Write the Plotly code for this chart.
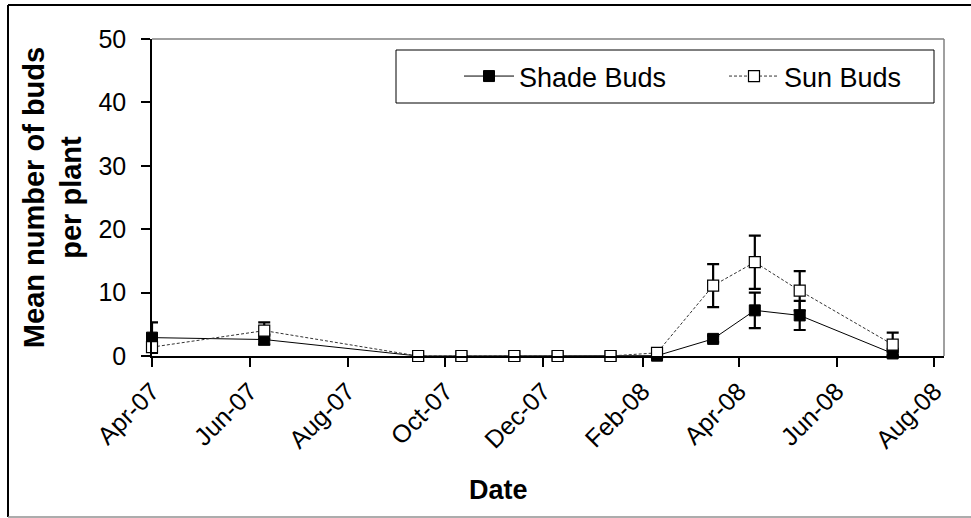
import plotly.graph_objects as go

dates = ["2007-04-01", "2007-06-10", "2007-09-14", "2007-10-11", "2007-11-13",
         "2007-12-10", "2008-01-12", "2008-02-10", "2008-03-16", "2008-04-11",
         "2008-05-09", "2008-07-06"]
shade_buds = [2.9, 2.6, 0, 0, 0, 0, 0, 0.05, 2.7, 7.2, 6.4, 0.4]
shade_err = [2.4, 0.8, 0, 0, 0, 0, 0, 0, 0.5, 2.8, 2.3, 0.3]
sun_buds = [1.4, 4.0, 0, 0, 0, 0, 0, 0.5, 11.1, 14.8, 10.3, 1.8]
sun_err = [0.8, 1.3, 0, 0, 0, 0, 0, 0.2, 3.4, 4.2, 3.1, 1.9]

FONT = "Liberation Sans, Arial, sans-serif"

fig = go.Figure()
fig.add_trace(go.Scatter(
    x=dates, y=shade_buds, name="Shade Buds", mode="lines+markers", cliponaxis=False,
    line=dict(color="black", width=1),
    marker=dict(symbol="square", size=11, color="black", line=dict(color="black", width=1)),
    error_y=dict(type="data", array=shade_err, color="black", thickness=2.2, width=6),
))
fig.add_trace(go.Scatter(
    x=dates, y=sun_buds, name="Sun Buds", mode="lines+markers", cliponaxis=False,
    line=dict(color="#333333", width=1, dash="3px,2px"),
    marker=dict(symbol="square", size=11, color="white", line=dict(color="black", width=1.2)),
    error_y=dict(type="data", array=sun_err, color="black", thickness=2.2, width=6),
))

L, R, T, B = 152, 27, 39, 162
W, H = 971, 518
pw, ph = W - L - R, H - T - B

def px(x):
    return (x - L) / pw

def py(y):
    return (H - B - y) / ph

shapes = [
    dict(type="line", xref="paper", yref="paper", x0=0, x1=1, y0=1, y1=1,
         line=dict(color="#808080", width=1.5)),
    dict(type="line", xref="paper", yref="paper", x0=1, x1=1, y0=0, y1=1,
         line=dict(color="#808080", width=1.5)),
    dict(type="line", xref="paper", yref="paper", x0=px(8), x1=px(975), y0=py(5), y1=py(5),
         line=dict(color="black", width=2)),
    dict(type="line", xref="paper", yref="paper", x0=px(8), x1=px(8), y0=py(5), y1=py(517),
         line=dict(color="black", width=2)),
    dict(type="line", xref="paper", yref="paper", x0=px(8), x1=px(975), y0=py(517), y1=py(517),
         line=dict(color="#909090", width=1.5)),
    dict(type="rect", xref="paper", yref="paper", x0=px(396), x1=px(934), y0=py(103), y1=py(50),
         line=dict(color="black", width=1), fillcolor="white", layer="below"),
]

fig.update_layout(
    width=W, height=H,
    margin=dict(l=L, r=R, t=T, b=B, autoexpand=False),
    paper_bgcolor="white", plot_bgcolor="white",
    font=dict(family=FONT, color="black", size=25),
    showlegend=True,
    legend=dict(orientation="h", x=px(459), y=py(76.5), xanchor="left", yanchor="middle",
                bgcolor="rgba(0,0,0,0)", borderwidth=0, itemwidth=50,
                font=dict(size=27, family=FONT), entrywidth=200, entrywidthmode="pixels"),
    shapes=shapes,
    annotations=[dict(text="<b>Date</b>", xref="paper", yref="paper",
                      x=px(498), y=py(490), xanchor="center", yanchor="middle",
                      showarrow=False, font=dict(size=27, family=FONT))],
    xaxis=dict(
        type="date", range=["2007-04-01", "2008-08-07"], automargin=False,
        tick0="2007-04-01", dtick="M2", tickformat="%b-%y", tickangle=-45,
        showgrid=False, zeroline=False,
        showline=True, linecolor="black", linewidth=1.5,
        ticks="outside", ticklen=9, tickcolor="black", tickwidth=1.5,
        tickfont=dict(size=25, family=FONT),
    ),
    yaxis=dict(
        range=[0, 50], tickvals=[0, 10, 20, 30, 40, 50], automargin=False,
        showgrid=False, zeroline=False,
        showline=True, linecolor="black", linewidth=1.5,
        ticks="outside", ticklen=9, tickcolor="black", tickwidth=1.5,
        tickfont=dict(size=25, family=FONT), ticklabelstandoff=10,
        title=dict(text="<b>Mean number of buds<br>per plant</b>", font=dict(size=29, family=FONT),
                   standoff=8),
    ),
)

fig.write_html("out.html", post_script="document.body.style.margin='0px';",
               config={"displayModeBar": False})
